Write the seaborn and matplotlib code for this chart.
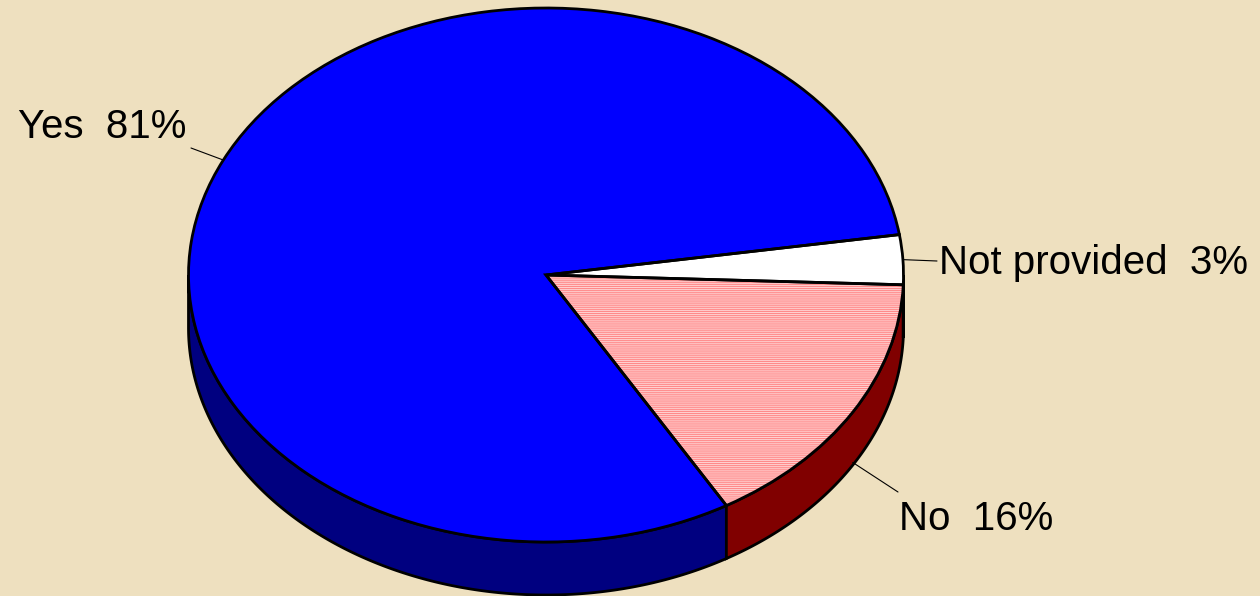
import numpy as np
import matplotlib
matplotlib.use("Agg")
import matplotlib.pyplot as plt
from matplotlib.patches import Polygon
import seaborn as sns

# Survey answers and their shares (percent)
labels = ["Yes", "No", "Not provided"]
shares = [81, 16, 3]

# Face colours of the pie top and the darker rim colours
top_colors = ["#0000FF", "#FFD2D2", "#FFFFFF"]
side_colors = ["#000080", "#800000", "#D8D8D8"]

sns.set_theme(style="white")
plt.rcParams["font.family"] = ["Liberation Sans", "DejaVu Sans"]
plt.rcParams["hatch.linewidth"] = 0.8

W, H = 1260, 596
fig = plt.figure(figsize=(W / 100, H / 100), dpi=100)
fig.patch.set_facecolor("#EEE0BF")
ax = fig.add_axes([0, 0, 1, 1])
ax.set_facecolor("none")

# Geometry of the tilted pie (pixels)
cx, cy, rx, ry, depth_px = 546.0, 275.0, 357.5, 267.0, 53.0
depth = depth_px / ry
start = 8.7
edge_lw = 2.0


def to_data(px, py):
    return (px - cx) / rx, (cy - py) / ry


# Top face
wedges, _ = ax.pie(
    shares, startangle=start, counterclock=True, colors=top_colors,
    wedgeprops=dict(linewidth=0, zorder=3),
)
# Fine horizontal stripes on the "No" slice
wedges[1].set_edgecolor("#FF8A8A")
wedges[1].set_hatch("--------")

# Outlines of the top face
ax.pie(
    shares, startangle=start, counterclock=True, colors=["none"] * 3,
    wedgeprops=dict(edgecolor="black", linewidth=edge_lw, fill=False, zorder=4),
)

# Visible rim of the pie: the front half (180°..360°) of every wedge
for w, col in zip(wedges, side_colors):
    t1, t2 = w.theta1, w.theta2
    for lo, hi in [(-180, 0), (180, 360), (540, 720)]:
        a, b = max(t1, lo), min(t2, hi)
        if b <= a:
            continue
        t = np.radians(np.linspace(a, b, 200))
        top = np.column_stack([np.cos(t), np.sin(t)])
        bot = np.column_stack([np.cos(t), np.sin(t) - depth])[::-1]
        ax.add_patch(Polygon(np.vstack([top, bot]), closed=True,
                             facecolor=col, edgecolor="black",
                             linewidth=edge_lw, zorder=2))

ax.set_aspect("auto")
ax.set_xlim(to_data(0, 0)[0], to_data(W, 0)[0])
ax.set_ylim(to_data(0, H)[1], to_data(0, 0)[1])
ax.axis("off")

# Labels with leader lines from each wedge's middle angle
label_pos = [(18, 138), (899, 530), (939, 274)]
line_end = [(191, 148), (898, 492), (937, 261)]
rim_drop = [0.0, depth * 0.95, 0.0]
for w, lab, val, lp, le, drop in zip(wedges, labels, shares, label_pos, line_end, rim_drop):
    mid = np.radians((w.theta1 + w.theta2) / 2)
    x0, y0 = np.cos(mid), np.sin(mid) - drop
    x1, y1 = to_data(*le)
    ax.plot([x0, x1], [y0, y1], color="black", linewidth=0.8, zorder=5)
    tx, ty = to_data(*lp)
    ax.text(tx, ty, f"{lab}  {val}%", fontsize=29, color="black",
            ha="left", va="baseline", zorder=6)

fig.savefig("out.png", dpi=100, facecolor=fig.get_facecolor())
